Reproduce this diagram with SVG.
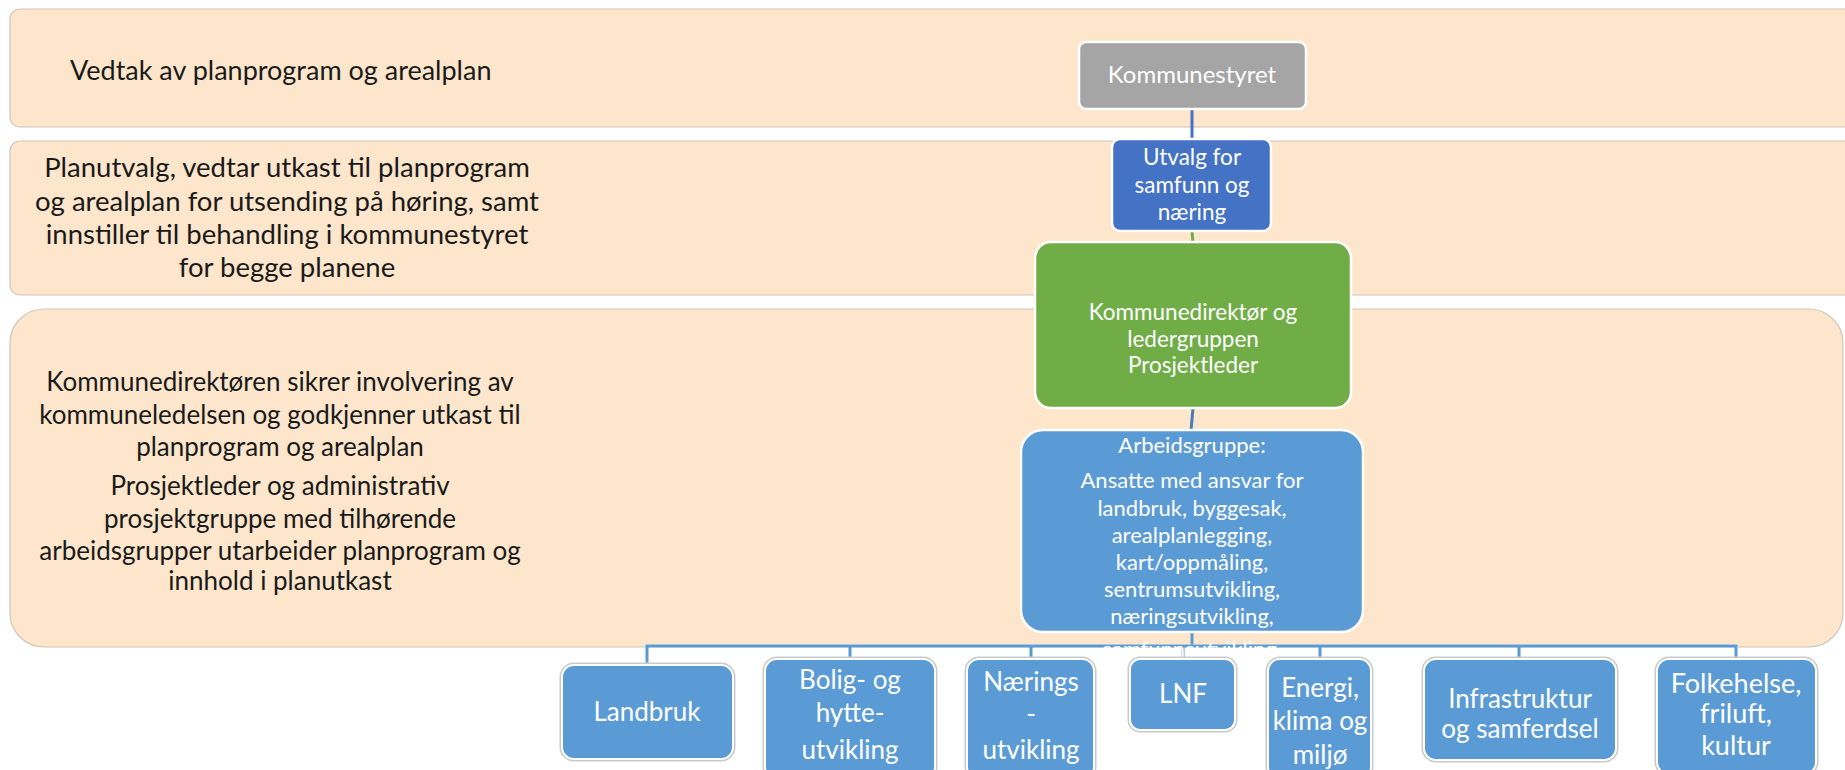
<svg xmlns="http://www.w3.org/2000/svg" width="1845" height="770" viewBox="0 0 1845 770">
<style>
.band{fill:#FDE6CB;stroke:#CFC6BC;stroke-width:1.2}
.bt{font-family:Lato,"Open Sans",sans-serif;fill:#1a1a1a;text-anchor:middle}
.b1{font-size:27px}
.b2{font-size:27.5px}
.b3{font-size:26px}
.nt{font-family:Lato,"Open Sans",sans-serif;fill:#ffffff;text-anchor:middle}
.node{stroke:#ffffff;stroke-width:2.5}
.child{fill:#5B9BD5;stroke:#ffffff;stroke-width:2}
.childsh{fill:none;stroke:#C9C9C9;stroke-width:5}
.con{fill:none;stroke-width:3}
</style>
<rect width="1845" height="770" fill="#ffffff"/>
<g id="bands">
<rect class="band" x="10" y="9" width="1860" height="118" rx="10"/>
<rect class="band" x="10" y="141" width="1860" height="154" rx="10"/>
<rect class="band" x="10" y="309" width="1833" height="338" rx="34"/>
</g>
<g id="band-texts">
<text class="bt b1" x="70" y="80" style="text-anchor:start">Vedtak av planprogram og arealplan</text>
<text class="bt b2" x="287" y="177">Planutvalg, vedtar utkast til planprogram</text>
<text class="bt b2" x="287" y="211">og arealplan for utsending på høring, samt</text>
<text class="bt b2" x="287" y="244">innstiller til behandling i kommunestyret</text>
<text class="bt b2" x="287" y="277">for begge planene</text>
<text class="bt b3" x="280" y="391">Kommunedirektøren sikrer involvering av</text>
<text class="bt b3" x="280" y="424">kommuneledelsen og godkjenner utkast til</text>
<text class="bt b3" x="280" y="456">planprogram og arealplan</text>
<text class="bt b3" x="280" y="495">Prosjektleder og administrativ</text>
<text class="bt b3" x="280" y="528">prosjektgruppe med tilhørende</text>
<text class="bt b3" x="280" y="560">arbeidsgrupper utarbeider planprogram og</text>
<text class="bt b3" x="280" y="590">innhold i planutkast</text>
</g>
<g id="connectors">
<line class="con" x1="1192" y1="109" x2="1192" y2="140" stroke="#4472C4"/>
<line class="con" x1="1192" y1="231" x2="1193" y2="243" stroke="#70AD47"/>
<line class="con" x1="1193" y1="408" x2="1191" y2="431" stroke="#4A7EBB"/>
<line class="con" x1="1192" y1="632" x2="1192" y2="646" stroke="#5B9BD5"/>
<path d="M647 665 V646 H1736 V660" class="con" stroke="#ffffff" stroke-width="6"/>
<path class="con" stroke="#5B9BD5" d="M647 664 V646 H1736 V660"/>
<path class="con" stroke="#5B9BD5" d="M850 646 V660 M1031 646 V660 M1183 646 V660 M1320 646 V660 M1519 646 V660"/>
</g>
<g id="kommunestyret">
<rect class="node" x="1079" y="42" width="227" height="67" rx="7" fill="#A5A5A5"/>
<text class="nt" x="1192" y="83" font-size="24">Kommunestyret</text>
</g>
<g id="utvalg">
<rect class="node" x="1112" y="139" width="159" height="92" rx="8" fill="#4472C4"/>
<text class="nt" x="1192" y="165" font-size="22.5">Utvalg for</text>
<text class="nt" x="1192" y="193" font-size="22.5">samfunn og</text>
<text class="nt" x="1192" y="220" font-size="22.5">næring</text>
</g>
<g id="kommunedirektor">
<rect class="node" x="1035" y="242" width="316" height="166" rx="16" fill="#70AD47"/>
<text class="nt" x="1193" y="320" font-size="22.5">Kommunedirektør og</text>
<text class="nt" x="1193" y="347" font-size="22.5">ledergruppen</text>
<text class="nt" x="1193" y="373" font-size="22.5">Prosjektleder</text>
</g>
<g id="arbeidsgruppe">
<text class="nt" x="1192" y="657" font-size="22">samfunnsutvikling,</text>
<rect class="node" x="1021" y="430" width="342" height="202" rx="22" fill="#5B9BD5"/>
<text class="nt" x="1192" y="453" font-size="22">Arbeidsgruppe:</text>
<text class="nt" x="1192" y="488" font-size="22">Ansatte med ansvar for</text>
<text class="nt" x="1192" y="516" font-size="22">landbruk, byggesak,</text>
<text class="nt" x="1192" y="543" font-size="22">arealplanlegging,</text>
<text class="nt" x="1192" y="570" font-size="22">kart/oppmåling,</text>
<text class="nt" x="1192" y="597" font-size="22">sentrumsutvikling,</text>
<text class="nt" x="1192" y="624" font-size="22">næringsutvikling,</text>
</g>
<g id="landbruk">
<rect class="childsh" x="562" y="665" width="171" height="94" rx="12"/>
<rect class="child" x="562" y="665" width="171" height="94" rx="12"/>
<text class="nt" x="647" y="721" font-size="26">Landbruk</text>
</g>
<g id="bolig">
<rect class="childsh" x="765" y="659" width="170" height="120" rx="12"/>
<rect class="child" x="765" y="659" width="170" height="120" rx="12"/>
<text class="nt" x="850" y="689" font-size="26">Bolig- og</text>
<text class="nt" x="850" y="722" font-size="26">hytte-</text>
<text class="nt" x="850" y="759" font-size="26">utvikling</text>
</g>
<g id="naerings">
<rect class="childsh" x="967" y="659" width="127" height="120" rx="12"/>
<rect class="child" x="967" y="659" width="127" height="120" rx="12"/>
<text class="nt" x="1031" y="691" font-size="26">Nærings</text>
<text class="nt" x="1031" y="723" font-size="26">-</text>
<text class="nt" x="1031" y="759" font-size="26">utvikling</text>
</g>
<g id="lnf">
<rect class="childsh" x="1130" y="659" width="105" height="71" rx="10"/>
<rect class="child" x="1130" y="659" width="105" height="71" rx="10"/>
<text class="nt" x="1183" y="703" font-size="26">LNF</text>
</g>
<g id="energi">
<rect class="childsh" x="1268" y="659" width="103" height="120" rx="12"/>
<rect class="child" x="1268" y="659" width="103" height="120" rx="12"/>
<text class="nt" x="1320" y="697" font-size="26">Energi,</text>
<text class="nt" x="1320" y="730" font-size="26">klima og</text>
<text class="nt" x="1320" y="764" font-size="26">miljø</text>
</g>
<g id="infrastruktur">
<rect class="childsh" x="1424" y="659" width="192" height="101" rx="12"/>
<rect class="child" x="1424" y="659" width="192" height="101" rx="12"/>
<text class="nt" x="1520" y="708" font-size="26">Infrastruktur</text>
<text class="nt" x="1520" y="738" font-size="26">og samferdsel</text>
</g>
<g id="folkehelse">
<rect class="childsh" x="1657" y="659" width="159" height="115" rx="12"/>
<rect class="child" x="1657" y="659" width="159" height="115" rx="12"/>
<text class="nt" x="1736" y="693" font-size="27">Folkehelse,</text>
<text class="nt" x="1736" y="723" font-size="27">friluft,</text>
<text class="nt" x="1736" y="755" font-size="27">kultur</text>
</g>
</svg>
